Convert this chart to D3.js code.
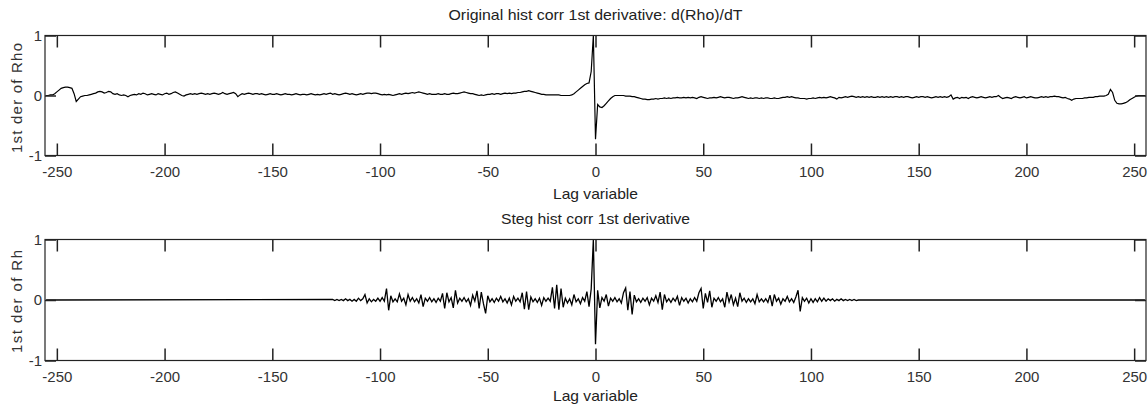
<!DOCTYPE html>
<html>
<head>
<meta charset="utf-8">
<title>hist corr 1st derivative</title>
<style>
  body { margin: 0; background: #fff; }
  svg { display: block; }
  text { font-family: "Liberation Sans", Arial, sans-serif; }
</style>
</head>
<body>
<script src="https://cdn.jsdelivr.net/npm/d3@7"></script>
<script>

// lag axis runs -255 .. 255
var lags = d3.range(-255, 256);

// original image: d(Rho)/dT, one value per lag (-255 .. 255)
var origVals = [
  0, 0, 0.01, 0.01, 0.03, 0.06, 0.09, 0.12, 0.13, 0.14,
  0.14, 0.13, 0.12, 0.03, -0.10, -0.06, -0.02, -0.01, 0, 0,
  0.01, 0.02, 0.03, 0.04, 0.06, 0.07, 0.06, 0.04, 0.05, 0.07,
  0.06, 0.03, 0.02, 0.03, 0.01, 0, 0.01, 0, -0.02, 0,
  0.01, 0.02, 0.01, 0.03, 0.02, 0.04, 0.03, 0.01, 0.02, 0.03,
  0.02, 0.01, 0.03, 0.02, 0.01, 0.03, 0.04, 0.02, 0.03, 0.05,
  0.06, 0.04, 0.02, 0, -0.01, 0.01, 0.02, 0.03, 0.02, 0.03,
  0.02, 0.03, 0.04, 0.03, 0.02, 0.03, 0.02, 0.03, 0.04, 0.03,
  0.02, 0.03, 0.05, 0.03, 0.02, 0.03, 0.04, 0.05, 0.03, -0.02,
  0.01, 0.03, 0.02, 0.03, 0.04, 0.03, 0.02, 0.03, 0.03, 0.02,
  0.03, 0.02, 0.01, 0.02, 0.03, 0.02, 0.02, 0.03, 0.02, 0.01,
  0.02, 0.03, 0.02, 0.02, 0.01, 0.02, 0.03, 0.02, 0.01, 0.02,
  0.02, 0.01, 0.02, 0.03, 0.02, 0.01, 0.02, 0.01, 0.02, 0.03,
  0.02, 0.03, 0.04, 0.02, 0.03, 0.02, 0.01, 0.02, 0.03, 0.04,
  0.03, 0.02, 0.03, 0.02, 0.01, 0.02, 0.03, 0.02, 0.03, 0.04,
  0.04, 0.03, 0.04, 0.04, 0.03, 0.02, 0.01, 0.02, 0.01, 0.02,
  0.01, 0.00, 0.01, 0.02, 0.03, 0.02, 0.03, 0.04, 0.03, 0.04,
  0.05, 0.04, 0.05, 0.06, 0.05, 0.04, 0.03, 0.02, 0.03, 0.02,
  0.02, 0.02, 0.03, 0.02, 0.02, 0.03, 0.02, 0.02, 0.03, 0.04,
  0.03, 0.03, 0.04, 0.05, 0.06, 0.05, 0.04, 0.03, 0.03, 0.02,
  0.01, 0.00, 0.01, 0.00, 0.01, 0.02, 0.02, 0.03, 0.02, 0.03,
  0.03, 0.02, 0.03, 0.04, 0.03, 0.04, 0.03, 0.04, 0.04, 0.05,
  0.05, 0.06, 0.07, 0.07, 0.08, 0.07, 0.06, 0.05, 0.04, 0.03,
  0.02, 0.02, 0.01, 0.01, 0.01, 0.01, 0.01, 0.01, 0.01, 0.00,
  0.00, 0.00, 0.00, 0.00, 0.01, 0.03, 0.06, 0.09, 0.12, 0.15,
  0.18, 0.20, 0.21, 0.40, 1.00, -0.73, -0.15, -0.19, -0.20, -0.17,
  -0.13, -0.09, -0.05, -0.02, 0.00, 0.00, 0.00, 0.00, 0.00, -0.01,
  -0.01, -0.01, -0.02, -0.02, -0.03, -0.04, -0.05, -0.06, -0.06, -0.07,
  -0.07, -0.06, -0.06, -0.05, -0.06, -0.05, -0.05, -0.04, -0.05, -0.04,
  -0.05, -0.04, -0.04, -0.03, -0.04, -0.04, -0.03, -0.04, -0.03, -0.04,
  -0.03, -0.04, -0.05, -0.03, -0.02, -0.03, -0.04, -0.05, -0.04, -0.04,
  -0.03, -0.04, -0.03, -0.02, -0.03, -0.04, -0.03, -0.03, -0.04, -0.05,
  -0.04, -0.04, -0.03, -0.02, -0.03, -0.04, -0.05, -0.04, -0.05, -0.04,
  -0.04, -0.05, -0.04, -0.05, -0.04, -0.04, -0.05, -0.05, -0.04, -0.05,
  -0.05, -0.04, -0.03, -0.03, -0.02, -0.03, -0.02, -0.03, -0.04, -0.04,
  -0.05, -0.05, -0.05, -0.06, -0.05, -0.05, -0.04, -0.05, -0.04, -0.03,
  -0.04, -0.03, -0.04, -0.03, -0.02, -0.03, -0.04, -0.06, -0.03, -0.04,
  -0.03, -0.02, -0.03, -0.02, -0.01, -0.02, -0.03, -0.02, -0.03, -0.02,
  -0.03, -0.02, -0.03, -0.02, -0.03, -0.03, -0.02, -0.03, -0.02, -0.03,
  -0.02, -0.03, -0.02, -0.03, -0.02, -0.02, -0.03, -0.02, -0.03, -0.02,
  -0.02, -0.03, -0.04, -0.03, -0.02, -0.03, -0.02, -0.02, -0.03, -0.02,
  -0.03, -0.04, -0.03, -0.02, -0.03, -0.02, -0.03, -0.02, -0.03, -0.02,
  0.01, -0.06, -0.04, -0.03, -0.05, -0.03, -0.04, -0.03, -0.05, -0.03,
  -0.02, -0.03, -0.04, -0.03, -0.02, -0.03, -0.04, -0.03, -0.02, -0.03,
  -0.02, -0.02, 0.00, -0.03, -0.05, -0.04, -0.03, -0.04, -0.05, -0.03,
  -0.02, -0.03, -0.04, -0.03, -0.02, -0.04, -0.03, -0.02, -0.03, -0.04,
  -0.04, -0.03, -0.02, -0.03, -0.02, -0.03, -0.02, -0.02, -0.01, -0.02,
  -0.02, -0.03, -0.04, -0.03, -0.05, -0.06, -0.08, -0.06, -0.05, -0.05,
  -0.05, -0.05, -0.04, -0.04, -0.03, -0.03, -0.03, -0.02, -0.02, -0.01,
  -0.01, -0.01, 0.00, 0.02, 0.10, 0.05, -0.08, -0.13, -0.14, -0.14,
  -0.13, -0.12, -0.10, -0.07, -0.05, -0.03, -0.01, 0.00, 0.00, 0.00,
  0.00
];

// steg image: only lags -122 .. 122 are non zero, outside it is flat 0
var stegLags = d3.range(-122, 123);
var stegVals = [
  0.01, -0.01, 0.01, -0.01, 0.01, -0.01, 0.02, -0.01, 0.01, -0.02,
  0.01, -0.02, 0.03, -0.01, 0.02, 0.09, -0.05, 0.02, -0.03, 0.01,
  -0.02, 0.03, -0.02, 0.04, -0.02, 0.19, -0.17, 0.07, -0.03, 0.02,
  -0.03, 0.10, -0.02, 0.03, -0.08, 0.09, -0.02, 0.04, -0.03, 0.02,
  -0.05, 0.09, -0.11, 0.03, -0.02, 0.04, -0.03, 0.02, -0.04, 0.03,
  -0.02, 0.11, -0.14, 0.12, -0.03, 0.04, -0.13, 0.16, -0.05, 0.03,
  -0.02, 0.04, -0.03, 0.02, -0.09, 0.08, -0.02, 0.15, -0.14, 0.13,
  -0.06, -0.22, 0.07, -0.03, 0.02, -0.04, 0.03, -0.02, 0.06, -0.03,
  0.02, -0.05, 0.03, -0.08, 0.06, -0.02, 0.03, -0.03, 0.12, -0.15,
  0.14, -0.16, 0.05, -0.03, 0.02, -0.04, 0.03, -0.09, 0.04, -0.02,
  0.03, -0.02, 0.21, -0.14, 0.25, -0.16, 0.19, -0.12, 0.03, -0.05,
  0.02, -0.08, 0.09, -0.03, 0.02, -0.06, 0.04, -0.02, 0.14, -0.11,
  0.18, 1.00, -0.73, 0.16, -0.13, 0.04, -0.02, 0.09, -0.10, 0.03,
  -0.02, 0.04, -0.03, 0.02, -0.05, 0.12, 0.20, -0.17, 0.14, -0.24,
  0.08, -0.03, 0.02, -0.04, 0.03, -0.02, 0.04, -0.08, 0.03, -0.02,
  0.07, -0.04, 0.13, -0.16, 0.09, -0.03, 0.02, -0.04, 0.03, -0.02,
  0.06, -0.09, 0.04, -0.02, 0.03, -0.05, 0.02, -0.03, 0.04, -0.02,
  0.12, 0.19, -0.14, 0.11, -0.04, 0.15, -0.12, 0.03, -0.02, 0.04,
  -0.03, 0.02, -0.12, 0.13, -0.03, 0.09, -0.08, 0.03, -0.11, 0.12,
  -0.02, 0.03, -0.04, 0.02, -0.03, 0.02, -0.06, 0.09, -0.03, 0.02,
  -0.03, 0.02, -0.04, 0.08, -0.10, 0.09, -0.02, 0.03, -0.07, 0.02,
  -0.02, 0.06, -0.03, 0.02, -0.04, 0.05, 0.16, -0.19, 0.04, -0.02,
  0.03, -0.05, 0.02, -0.04, 0.02, -0.03, 0.04, -0.02, 0.03, -0.02,
  0.02, -0.01, 0.02, -0.02, 0.01, -0.01, 0.02, -0.01, 0.01, -0.01,
  0.01, -0.01, 0.01, -0.01, 0.00
];

var xTicks = [-250, -200, -150, -100, -50, 0, 50, 100, 150, 200, 250];
var yTicks = [-1, 0, 1];

var W = 1148, H = 410;
var left = 45, right = 1146;

var svg = d3.select("body").append("svg")
  .attr("width", W)
  .attr("height", H);

var x = d3.scaleLinear().domain([-255.5, 255.5]).range([left, right]);

// plain hyphen for negatives, like the original figure
var fmt = function(d){ return String(d); };

// build the two line datasets
var origData = lags.map(function(l, i){ return [l, origVals[i]]; });
var stegData = [[-255, 0]]
  .concat(stegLags.map(function(l, i){ return [l, stegVals[i]]; }))
  .concat([[255, 0]]);

var panels = [
  { top: 35.5, bottom: 155.5, data: origData, lw: 1.2,
    title: "Original hist corr 1st derivative: d(Rho)/dT", titleY: 20, titleLen: 294,
    ylabel: "1st der of Rho", ylabelLen: 110, ylabelY: 98,
    xlabelY: 198.5 },
  { top: 239.5, bottom: 360.5, data: stegData, lw: 1.3,
    title: "Steg hist corr 1st derivative", titleY: 224, titleLen: 189,
    ylabel: "1st der of Rh", ylabelLen: 103, ylabelY: 301.5,
    xlabelY: 401 }
];

panels.forEach(function(p, k){
  var y = d3.scaleLinear().domain([-1, 1]).range([p.bottom, p.top]);
  var g = svg.append("g");

  g.append("clipPath").attr("id", "clip" + k)
    .append("rect")
    .attr("x", left).attr("y", p.top)
    .attr("width", right - left).attr("height", p.bottom - p.top);

  //data line
  var line = d3.line()
    .x(function(d){ return x(d[0]); })
    .y(function(d){ return y(d[1]); });

  g.append("path")
    .datum(p.data)
    .attr("clip-path", "url(#clip" + k + ")")
    .attr("fill", "none")
    .attr("stroke", "#000")
    .attr("stroke-width", p.lw)
    .attr("d", line);

  //bottom axis with inward ticks
  var xb = g.append("g")
    .attr("transform", "translate(0," + p.bottom + ")")
    .call(d3.axisBottom(x).tickValues(xTicks).tickSizeInner(-12).tickSizeOuter(0).tickPadding(11).tickFormat(fmt));
  //top axis, ticks only
  var xt = g.append("g")
    .attr("transform", "translate(0," + p.top + ")")
    .call(d3.axisTop(x).tickValues(xTicks).tickSizeInner(-12).tickSizeOuter(0).tickFormat(""));
  //left axis
  var yl = g.append("g")
    .attr("transform", "translate(" + left + ",0)")
    .call(d3.axisLeft(y).tickValues(yTicks).tickSizeInner(-11).tickSizeOuter(0).tickPadding(3).tickFormat(fmt));
  //right axis, ticks only
  var yr = g.append("g")
    .attr("transform", "translate(" + right + ",0)")
    .call(d3.axisRight(y).tickValues(yTicks).tickSizeInner(-11).tickSizeOuter(0).tickFormat(""));

  [xb, xt, yl, yr].forEach(function(a){
    a.select(".domain").remove();
    a.selectAll(".tick line").attr("stroke", "#222").attr("stroke-width", 1.5);
    a.selectAll(".tick text")
      .attr("fill", "#333")
      .style("font-size", "15px")
      .style("font-family", "'Liberation Sans', Arial, sans-serif");
  });

  //box round the plot
  g.append("rect")
    .attr("x", left).attr("y", p.top)
    .attr("width", right - left).attr("height", p.bottom - p.top)
    .attr("fill", "none")
    .attr("stroke", "#222")
    .attr("stroke-width", 1.2);

  g.append("text")
    .attr("x", x(0)).attr("y", p.titleY)
    .attr("text-anchor", "middle")
    .attr("textLength", p.titleLen)
    .attr("lengthAdjust", "spacingAndGlyphs")
    .style("font-size", "15px")
    .attr("fill", "#222")
    .text(p.title);

  g.append("text")
    .attr("x", x(0)).attr("y", p.xlabelY)
    .attr("text-anchor", "middle")
    .attr("textLength", 85)
    .attr("lengthAdjust", "spacingAndGlyphs")
    .style("font-size", "15px")
    .attr("fill", "#222")
    .text("Lag variable");

  g.append("text")
    .attr("transform", "translate(22," + p.ylabelY + ") rotate(-90)")
    .attr("text-anchor", "middle")
    .attr("textLength", p.ylabelLen)
    .attr("lengthAdjust", "spacing")
    .style("font-size", "15px")
    .attr("fill", "#333")
    .text(p.ylabel);
});

</script>
</body>
</html>
